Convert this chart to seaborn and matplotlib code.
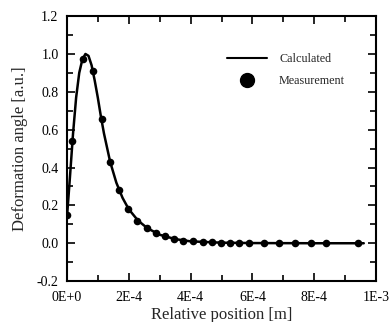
import matplotlib
matplotlib.use("Agg")
import matplotlib.pyplot as plt
from matplotlib.lines import Line2D
from matplotlib.ticker import MultipleLocator
import seaborn as sns
import pandas as pd

# Calculated curve
calc_x = [0, 1e-5, 2e-5, 3e-5, 4e-5, 5e-5, 6e-5, 7e-5, 8e-5, 9e-5, 1e-4, 1.1e-4,
          1.2e-4, 1.4e-4, 1.6e-4, 1.8e-4, 2e-4, 2.3e-4, 2.6e-4, 3e-4, 3.5e-4,
          4e-4, 5e-4, 6e-4, 8e-4, 9.6e-4]
calc_y = [0.13, 0.35, 0.58, 0.77, 0.90, 0.97, 1.0, 0.99, 0.94, 0.86, 0.77, 0.67,
          0.58, 0.43, 0.32, 0.24, 0.18, 0.12, 0.08, 0.045, 0.022, 0.01, 0.003,
          0.001, 0.0, 0.0]

# Measurement points
meas_x = [0.2e-5, 1.8e-5, 5.2e-5, 8.3e-5, 1.12e-4, 1.39e-4, 1.69e-4, 1.98e-4,
          2.28e-4, 2.58e-4, 2.87e-4, 3.17e-4, 3.46e-4, 3.76e-4, 4.07e-4, 4.39e-4,
          4.68e-4, 4.98e-4, 5.27e-4, 5.57e-4, 5.88e-4, 6.39e-4, 6.87e-4, 7.38e-4,
          7.89e-4, 8.38e-4, 9.42e-4]
meas_y = [0.148, 0.54, 0.974, 0.91, 0.655, 0.43, 0.28, 0.183, 0.12, 0.081, 0.056,
          0.037, 0.021, 0.014, 0.01, 0.006, 0.004, 0.003, 0.002, 0.001, 0.001,
          0.0, 0.0, 0.0, 0.0, 0.0, 0.0]

x_ticks = [0, 2e-4, 4e-4, 6e-4, 8e-4, 1e-3]
x_labels = ["0E+0", "2E-4", "4E-4", "6E-4", "8E-4", "1E-3"]
y_ticks = [-0.2, 0.0, 0.2, 0.4, 0.6, 0.8, 1.0, 1.2]
y_labels = ["-0.2", "0.0", "0.2", "0.4", "0.6", "0.8", "1.0", "1.2"]

sns.set_style("ticks")
plt.rcParams["font.family"] = ["Liberation Serif", "DejaVu Serif"]

fig = plt.figure(figsize=(3.91, 3.22), dpi=100)
ax = fig.add_axes([0.171, 0.127, 0.791, 0.823])

calc = pd.DataFrame({"x": calc_x, "y": calc_y})
meas = pd.DataFrame({"x": meas_x, "y": meas_y})
sns.lineplot(data=calc, x="x", y="y", ax=ax, color="black", lw=1.8, sort=False)
sns.scatterplot(data=meas, x="x", y="y", ax=ax, color="black", s=30,
                edgecolor="black", linewidth=0, zorder=3)

ax.set_xlim(0, 1e-3)
ax.set_ylim(-0.2, 1.2)
ax.set_xticks(x_ticks)
ax.set_xticklabels(x_labels)
ax.set_yticks(y_ticks)
ax.set_yticklabels(y_labels)
ax.xaxis.set_minor_locator(MultipleLocator(1e-4))
ax.yaxis.set_minor_locator(MultipleLocator(0.1))
ax.tick_params(which="both", direction="in", top=True, right=True,
               labelsize=10, colors="black", width=1.2)
ax.tick_params(which="major", length=6)
ax.tick_params(which="minor", length=4)
ax.tick_params(axis="x", pad=7)
ax.tick_params(axis="y", pad=6)
for s in ax.spines.values():
    s.set_linewidth(1.5)
    s.set_color("black")

ax.set_xlabel("Relative position [m]", fontsize=12, labelpad=2)
ax.set_ylabel("Deformation angle [a.u.]", fontsize=12, labelpad=6)

handles = [Line2D([0], [0], color="black", lw=1.5),
           Line2D([0], [0], marker="o", color="black", lw=0, markersize=10)]
ax.legend(handles, ["Calculated", "Measurement"], frameon=False, fontsize=8.7,
          loc="upper left", bbox_to_anchor=(0.518, 0.86), borderpad=0,
          borderaxespad=0, handlelength=3.3, labelspacing=0.8,
          handletextpad=1.0)

fig.savefig("out.png", dpi=100)
